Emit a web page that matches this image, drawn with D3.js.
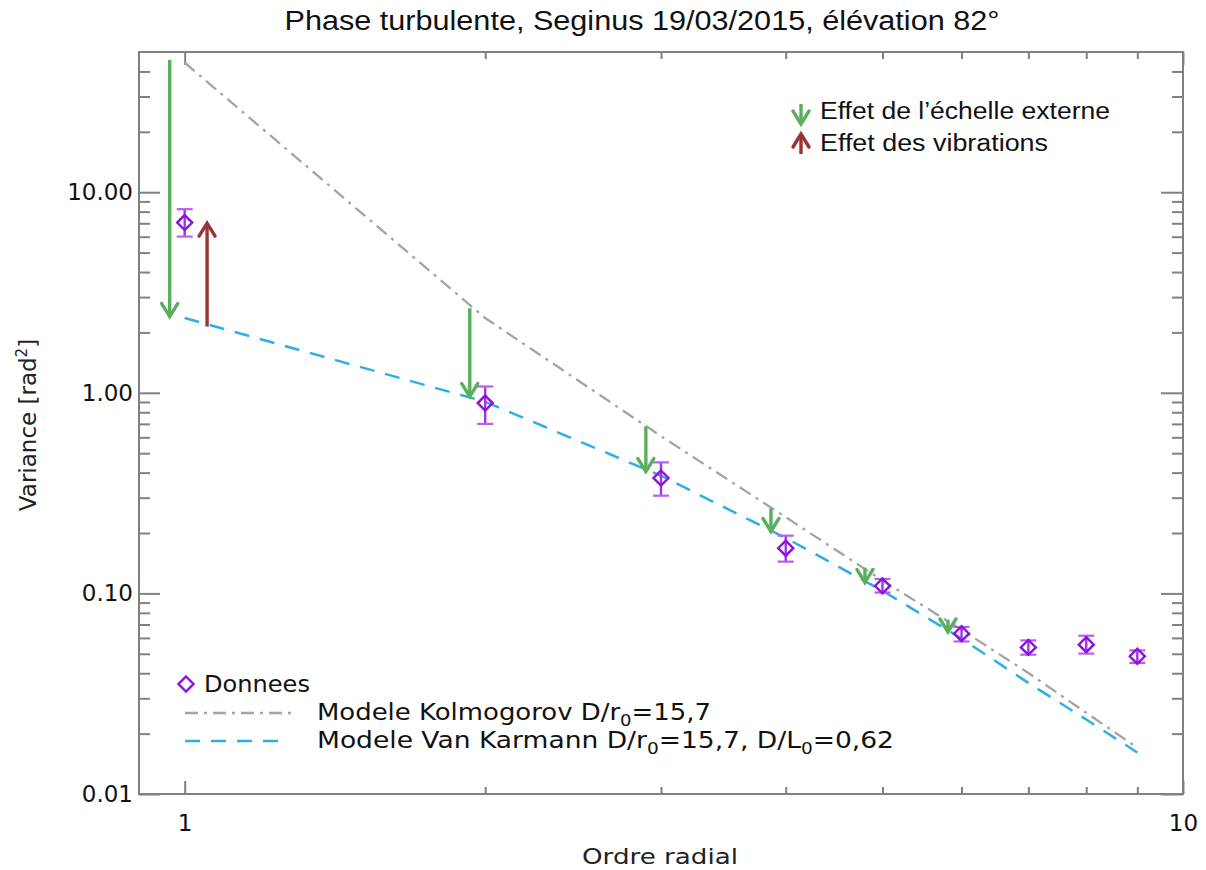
<!DOCTYPE html>
<html><head><meta charset="utf-8">
<script src="https://cdn.jsdelivr.net/npm/d3@7"></script>
<style>body{margin:0;background:#fff} svg{display:block}</style>
</head><body><svg id="c" width="1206" height="870"></svg>
<script>
// ---- data ----
const orders = [1, 2, 3, 4, 5, 6, 7, 8, 9];
const variance = [7.06, 0.889, 0.376, 0.168, 0.109, 0.063, 0.0538, 0.0555, 0.0486];
const errHigh = [8.23, 1.075, 0.450, 0.194, 0.118, 0.068, 0.0583, 0.0615, 0.0520];
const errLow = [6.01, 0.700, 0.307, 0.144, 0.101, 0.0576, 0.0495, 0.0501, 0.0450];
const kolmogorov = [44.2, 2.36, 0.608, 0.240, 0.116, 0.0659, 0.0401, 0.0254, 0.0170];
const vonKarman = [2.36, 0.902, 0.386, 0.189, 0.1031, 0.0595, 0.0358, 0.0235, 0.0161];
// green arrows: effect of outer scale
const outerX = [0.966, 1.930, 2.897, 3.866, 4.802, 5.815];
const outerFrom = [45.6, 2.64, 0.680, 0.266, 0.1343, 0.0740];
const outerTo = [2.40, 0.958, 0.405, 0.2036, 0.1134, 0.0642];
// red arrow: effect of vibrations
const vibX = [1.053];
const vibFrom = [2.14];
const vibTo = [7.01];
const yMajor = [0.01, 0.1, 1, 10];
const xMajor = [1, 10];

const title = "Phase turbulente, Seginus 19/03/2015, élévation 82°";

// ---- setup ----
const svg = d3.select("#c");
svg.append("rect").attr("width", 1206).attr("height", 870).attr("fill", "#fff");
const L = 139, R = 1183, T = 52, B = 794;
const x = d3.scaleLog().domain([0.9, 10]).range([L, R]);
const y = d3.scaleLog().domain([0.01, 50]).range([B, T]);

const axisColor = "#808080";
const labFont = "DejaVu Sans, sans-serif";

const yMinor = [];
[0.01, 0.1, 1, 10].forEach(d => { for (let k = 2; k <= 9; k++) { const v = d * k; if (v < 48) yMinor.push(v); } });
const xMinor = [];
[1].forEach(d => { for (let k = 2; k <= 9; k++) xMinor.push(d * k); });

function styleAxis(g) {
  g.select(".domain").remove();
  g.selectAll("line").attr("stroke", axisColor).attr("stroke-width", 2);
  g.selectAll("text").attr("fill", "#111").attr("font-family", labFont).attr("font-size", 23);
}

// left
svg.append("g").attr("transform", `translate(${L},0)`)
  .call(d3.axisLeft(y).tickValues(yMajor).tickSize(-21).tickPadding(6).tickFormat(d3.format(".2f"))).call(styleAxis);
svg.append("g").attr("transform", `translate(${L},0)`)
  .call(d3.axisLeft(y).tickValues(yMinor).tickSize(-11).tickFormat("")).call(styleAxis);
// right
svg.append("g").attr("transform", `translate(${R},0)`)
  .call(d3.axisRight(y).tickValues(yMajor).tickSize(-22).tickFormat("")).call(styleAxis);
svg.append("g").attr("transform", `translate(${R},0)`)
  .call(d3.axisRight(y).tickValues(yMinor).tickSize(-11).tickFormat("")).call(styleAxis);
// bottom
svg.append("g").attr("transform", `translate(0,${B})`)
  .call(d3.axisBottom(x).tickValues(xMajor).tickSize(-13).tickPadding(21).tickFormat(d3.format("d"))).call(styleAxis);
svg.append("g").attr("transform", `translate(0,${B})`)
  .call(d3.axisBottom(x).tickValues(xMinor).tickSize(-7).tickFormat("")).call(styleAxis);
// top
svg.append("g").attr("transform", `translate(0,${T})`)
  .call(d3.axisTop(x).tickValues(xMajor).tickSize(-13).tickFormat("")).call(styleAxis);
svg.append("g").attr("transform", `translate(0,${T})`)
  .call(d3.axisTop(x).tickValues(xMinor).tickSize(-7).tickFormat("")).call(styleAxis);

// frame
svg.append("rect").attr("x", L).attr("y", T).attr("width", R - L).attr("height", B - T)
  .attr("fill", "none").attr("stroke", axisColor).attr("stroke-width", 2);

// ---- model lines ----
const line = d3.line().x(d => x(d[0])).y(d => y(d[1]));
const kolColor = "#a4a4a4", vkColor = "#2eaee8";
svg.append("path").datum(orders.map((o, i) => [o, kolmogorov[i]]))
  .attr("d", line).attr("fill", "none").attr("stroke", kolColor).attr("stroke-width", 2.3)
  .attr("stroke-dasharray", "13,6,3,6");
svg.append("path").datum(orders.map((o, i) => [o, vonKarman[i]]))
  .attr("d", line).attr("fill", "none").attr("stroke", vkColor).attr("stroke-width", 2.5)
  .attr("stroke-dasharray", "15,11");

// ---- arrows ----
function arrow(g, px, y0, y1, color) {
  const dir = y1 > y0 ? 1 : -1;
  g.append("line").attr("x1", px).attr("x2", px).attr("y1", y0).attr("y2", y1 - dir * 1)
    .attr("stroke", color).attr("stroke-width", 3.4);
  g.append("path").attr("d", `M${px - 8},${y1 - dir * 13} L${px},${y1} L${px + 8},${y1 - dir * 13}`)
    .attr("fill", "none").attr("stroke", color).attr("stroke-width", 3.4)
    .attr("stroke-linejoin", "miter").attr("stroke-linecap", "round");
}
const green = "#5aaf5c", red = "#9a3333";
const ag = svg.append("g");
outerX.forEach((v, i) => arrow(ag, x(v), y(outerFrom[i]), y(outerTo[i]), green));
vibX.forEach((v, i) => arrow(ag, x(v), y(vibFrom[i]), y(vibTo[i]), red));

// ---- data points ----
const purple = "#8f10dc", errC = "#b660ee";
const pg = svg.append("g");
orders.forEach((o, i) => {
  const cx = x(o), cy = y(variance[i]), yh = y(errHigh[i]), yl = y(errLow[i]);
  pg.append("line").attr("x1", cx).attr("x2", cx).attr("y1", yh).attr("y2", yl).attr("stroke", "#a035e4").attr("stroke-width", 2.4);
  pg.append("line").attr("x1", cx - 8).attr("x2", cx + 8).attr("y1", yh).attr("y2", yh).attr("stroke", errC).attr("stroke-width", 2.2);
  pg.append("line").attr("x1", cx - 8).attr("x2", cx + 8).attr("y1", yl).attr("y2", yl).attr("stroke", errC).attr("stroke-width", 2.2);
  const r = 7.5;
  pg.append("path").attr("d", `M${cx},${cy - r}L${cx + r},${cy}L${cx},${cy + r}L${cx - r},${cy}Z`)
    .attr("fill", "none").attr("stroke", purple).attr("stroke-width", 2.4);
});

// ---- title & axis labels ----
svg.append("text").attr("x", 642).attr("y", 30).attr("text-anchor", "middle")
  .attr("font-family", "Liberation Sans, Arial, sans-serif").attr("font-size", 27)
  .attr("textLength", 715).attr("lengthAdjust", "spacingAndGlyphs").attr("fill", "#111").text(title);

svg.append("text").attr("x", 660).attr("y", 864).attr("text-anchor", "middle")
  .attr("font-family", labFont).attr("font-size", 22).attr("textLength", 156).attr("lengthAdjust", "spacingAndGlyphs")
  .attr("fill", "#222").text("Ordre radial");

const yl = svg.append("text").attr("transform", "translate(36,425) rotate(-90)").attr("text-anchor", "middle")
  .attr("font-family", labFont).attr("font-size", 23).attr("fill", "#222");
yl.append("tspan").text("Variance [rad");
yl.append("tspan").attr("dy", -9).attr("font-size", 15).text("2");
yl.append("tspan").attr("dy", 9).text("]");

// ---- top-right legend ----
const lg = svg.append("g");
arrow(lg, 801, 104, 124, green);
arrow(lg, 801, 154, 134, red);
lg.append("text").attr("x", 820).attr("y", 119).attr("font-family", "Liberation Sans, Arial, sans-serif")
  .attr("font-size", 23).attr("textLength", 290).attr("lengthAdjust", "spacingAndGlyphs").attr("fill", "#111")
  .text("Effet de l’échelle externe");
lg.append("text").attr("x", 820).attr("y", 151).attr("font-family", "Liberation Sans, Arial, sans-serif")
  .attr("font-size", 23).attr("textLength", 228).attr("lengthAdjust", "spacingAndGlyphs").attr("fill", "#111")
  .text("Effet des vibrations");

// ---- bottom-left legend ----
const bl = svg.append("g").attr("font-family", labFont).attr("font-size", 23).attr("fill", "#111");
const r0 = 7.5, dx0 = 186, dy0 = 684;
bl.append("path").attr("d", `M${dx0},${dy0 - r0}L${dx0 + r0},${dy0}L${dx0},${dy0 + r0}L${dx0 - r0},${dy0}Z`)
  .attr("fill", "none").attr("stroke", purple).attr("stroke-width", 2.4);
bl.append("text").attr("x", 204).attr("y", 692).attr("textLength", 106).attr("lengthAdjust", "spacingAndGlyphs").text("Donnees");
bl.append("line").attr("x1", 185).attr("x2", 294).attr("y1", 713).attr("y2", 713)
  .attr("stroke", kolColor).attr("stroke-width", 2.3).attr("stroke-dasharray", "13,6,3,6");
bl.append("line").attr("x1", 185).attr("x2", 285).attr("y1", 741).attr("y2", 741)
  .attr("stroke", vkColor).attr("stroke-width", 2.5).attr("stroke-dasharray", "15,11");
function legText(yy, parts) {
  const t = bl.append("text").attr("x", 317).attr("y", yy);
  let lowered = false;
  parts.forEach(p => {
    if (p.sub) {
      t.append("tspan").attr("dy", 6).attr("font-size", 16).text(p.sub);
      lowered = true;
    } else {
      const ts = t.append("tspan").text(p.t);
      if (lowered) { ts.attr("dy", -6); lowered = false; }
    }
  });
  return t;
}
legText(720, [{t: "Modele Kolmogorov D/r"}, {sub: "0"}, {t: "=15,7"}]).attr("textLength", 394).attr("lengthAdjust", "spacingAndGlyphs");
legText(748, [{t: "Modele Van Karmann D/r"}, {sub: "0"}, {t: "=15,7, D/L"}, {sub: "0"}, {t: "=0,62"}]).attr("textLength", 577).attr("lengthAdjust", "spacingAndGlyphs");
</script></body></html>
